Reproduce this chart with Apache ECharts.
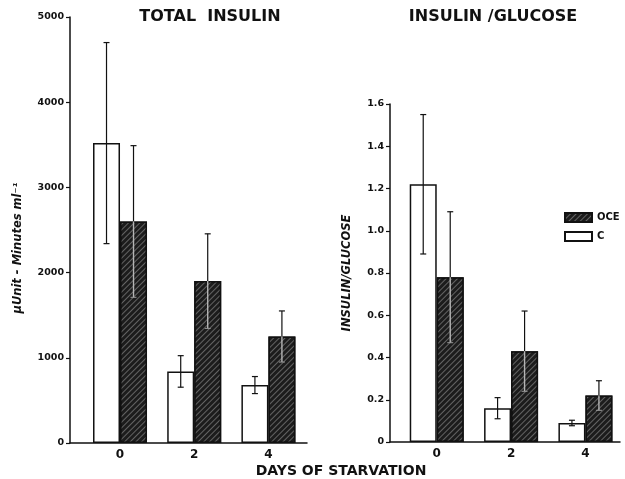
<!DOCTYPE html>
<html><head><meta charset="utf-8">
<script src="https://cdn.jsdelivr.net/npm/echarts@6/dist/echarts.min.js"></script>
<style>html,body{margin:0;padding:0;background:#fff}#c{width:625px;height:479px}</style>
</head><body><div id="c"></div>
<script>
const days = [0, 2, 4];
const insulinC = [3520, 840, 680];
const insulinCErr = [1180, 185, 100];
const insulinOCE = [2600, 1900, 1250];
const insulinOCEErr = [890, 555, 300];
const ratioC = [1.22, 0.16, 0.09];
const ratioCErr = [0.33, 0.05, 0.013];
const ratioOCE = [0.78, 0.43, 0.22];
const ratioOCEErr = [0.31, 0.19, 0.07];

const FONT = 'DejaVu Sans';
const INK = '#111';
const BW = 27;

const chart = echarts.init(document.getElementById('c'), null, {renderer: 'canvas'});

const hatch = {
  symbol: 'rect', symbolSize: 1,
  dashArrayX: [[1, 0]], dashArrayY: [1, 2.5],
  rotation: -Math.PI / 4,
  color: 'rgba(170,170,170,0.5)'
};

function pairs(vals, errs) { return days.map((d, i) => [d, vals[i], errs[i]]); }

function errSeries(gi, vals, errs, side, dark) {
  return {
    type: 'custom', xAxisIndex: gi, yAxisIndex: gi, z: 5, silent: true,
    data: pairs(vals, errs),
    renderItem: function (params, api) {
      const x = api.value(0), v = api.value(1), e = api.value(2);
      const top = api.coord([x, v + e]);
      const mid = api.coord([x, v]);
      const bot = api.coord([x, v - e]);
      const cx = top[0] + side * BW / 2;
      const cap = 3;
      const ch = [];
      if (!dark) {
        ch.push({type: 'line', shape: {x1: cx, y1: top[1], x2: cx, y2: bot[1]}, style: {stroke: INK, lineWidth: 1.2}});
        ch.push({type: 'line', shape: {x1: cx - cap, y1: top[1], x2: cx + cap, y2: top[1]}, style: {stroke: INK, lineWidth: 1.2}});
        ch.push({type: 'line', shape: {x1: cx - cap, y1: bot[1], x2: cx + cap, y2: bot[1]}, style: {stroke: INK, lineWidth: 1.2}});
      } else {
        ch.push({type: 'line', shape: {x1: cx, y1: top[1], x2: cx, y2: mid[1]}, style: {stroke: INK, lineWidth: 1.2}});
        ch.push({type: 'line', shape: {x1: cx - cap, y1: top[1], x2: cx + cap, y2: top[1]}, style: {stroke: INK, lineWidth: 1.2}});
        ch.push({type: 'line', shape: {x1: cx, y1: mid[1], x2: cx, y2: bot[1]}, style: {stroke: '#b5b5b5', lineWidth: 1.4}});
        ch.push({type: 'line', shape: {x1: cx - cap, y1: bot[1], x2: cx + cap, y2: bot[1]}, style: {stroke: '#9a9a9a', lineWidth: 1}});
      }
      return {type: 'group', children: ch};
    }
  };
}

function barSeries(gi, name, vals, dark) {
  return {
    type: 'bar', name: name, xAxisIndex: gi, yAxisIndex: gi,
    barWidth: BW, barGap: '0%',
    data: days.map((d, i) => [d, vals[i]]),
    itemStyle: dark
      ? {color: '#1c1c1c', borderColor: INK, borderWidth: 1.5, decal: hatch}
      : {color: '#fff', borderColor: INK, borderWidth: 1.5},
    emphasis: {disabled: true}
  };
}

function xAxis(gi, min, max) {
  return {
    type: 'value', gridIndex: gi, min: min, max: max,
    axisLine: {show: true, onZero: false, lineStyle: {color: INK, width: 1.5}},
    axisTick: {show: false},
    splitLine: {show: false},
    axisLabel: {customValues: days, formatter: v => String(v), color: INK, fontFamily: FONT, fontWeight: 'bold', fontSize: 12, margin: 6}
  };
}

function yAxis(gi, max, interval, name, fmt, nameGap, padding) {
  return {
    type: 'value', gridIndex: gi, min: 0, max: max, interval: interval,
    name: name, nameLocation: 'middle', nameRotate: 90, nameGap: nameGap,
    nameTextStyle: {color: INK, fontFamily: FONT, fontWeight: 'bold', fontStyle: 'italic', fontSize: 11.5, padding: padding},
    axisLine: {show: true, onZero: false, lineStyle: {color: INK, width: 1.5}},
    axisTick: {show: true, length: 4, lineStyle: {color: INK, width: 1.2}},
    splitLine: {show: false},
    axisLabel: {formatter: fmt, color: INK, fontFamily: FONT, fontWeight: 'bold', fontSize: 9.5, margin: 6}
  };
}

const option = {
  backgroundColor: '#fff',
  animation: false,
  grid: [
    {left: 70, right: 318, top: 17, bottom: 36},
    {left: 390, right: 5, top: 104, bottom: 37}
  ],
  xAxis: [xAxis(0, -1.348, 5.04), xAxis(1, -1.257, 4.93)],
  yAxis: [
    yAxis(0, 5000, 1000, 'μUnit - Minutes ml⁻¹', v => String(v), 46, [0, 36, 0, 0]),
    yAxis(1, 1.6, 0.2, 'INSULIN/GLUCOSE', v => v === 0 ? '0' : v.toFixed(1), 37, [0, 0, 0, 0])
  ],
  legend: {
    data: [{name: 'OCE', icon: 'rect'}, {name: 'C', icon: 'rect'}], orient: 'vertical', left: 559, top: 207,
    itemWidth: 27, itemHeight: 9, itemGap: 8,
    selectedMode: false,
    textStyle: {color: INK, fontFamily: FONT, fontWeight: 'bold', fontSize: 10}
  },
  graphic: [
    {type: 'text', x: 210, y: 17, style: {text: 'TOTAL  INSULIN', font: 'bold 16px "DejaVu Sans"', fill: INK, align: 'center', verticalAlign: 'middle', textAlign: 'center', textVerticalAlign: 'middle'}},
    {type: 'text', x: 493, y: 17, style: {text: 'INSULIN /GLUCOSE', font: 'bold 16px "DejaVu Sans"', fill: INK, align: 'center', verticalAlign: 'middle', textAlign: 'center', textVerticalAlign: 'middle'}},
    {type: 'text', x: 341, y: 471, style: {text: 'DAYS OF STARVATION', font: 'bold 14px "DejaVu Sans"', fill: INK, align: 'center', verticalAlign: 'middle', textAlign: 'center', textVerticalAlign: 'middle'}}
  ],
  series: [
    barSeries(0, 'C', insulinC, false),
    barSeries(0, 'OCE', insulinOCE, true),
    barSeries(1, 'C', ratioC, false),
    barSeries(1, 'OCE', ratioOCE, true),
    errSeries(0, insulinC, insulinCErr, -1, false),
    errSeries(0, insulinOCE, insulinOCEErr, 1, true),
    errSeries(1, ratioC, ratioCErr, -1, false),
    errSeries(1, ratioOCE, ratioOCEErr, 1, true)
  ]
};
chart.setOption(option);
</script>
</body></html>
